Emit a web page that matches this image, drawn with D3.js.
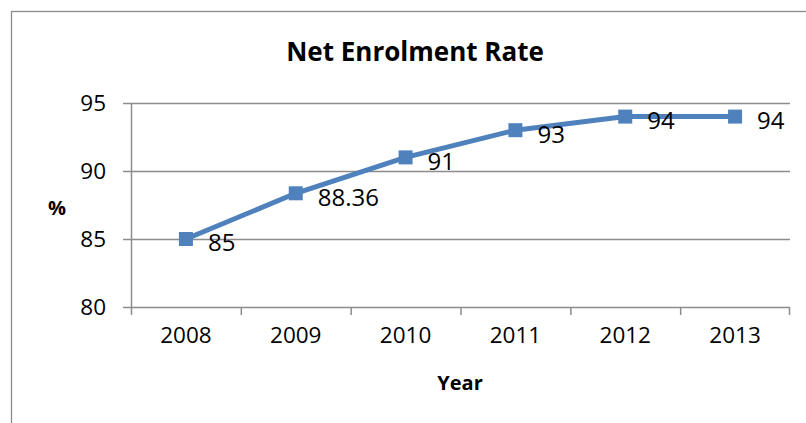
<!DOCTYPE html>
<html>
<head>
<meta charset="utf-8">
<script src="https://cdn.jsdelivr.net/npm/d3@7"></script>
<style>
  body { margin: 0; background: #fff; }
  svg { display: block; font-family: "Open Sans", sans-serif; }
</style>
</head>
<body>
<svg id="chart" width="806" height="423"></svg>
<script>
var years = ["2008", "2009", "2010", "2011", "2012", "2013"];
var rates = [85, 88.36, 91, 93, 94, 94];
var rateLabels = ["85", "88.36", "91", "93", "94", "94"];
var yTicks = [80, 85, 90, 95];

var svg = d3.select("#chart"),
    margin = {top: 103, right: 16, bottom: 116, left: 131},
    width = +svg.attr("width") - margin.left - margin.right,
    height = +svg.attr("height") - margin.top - margin.bottom;

// chart frame, runs off the right and bottom edge like the original
svg.append("rect")
    .attr("x", 11.5)
    .attr("y", 11.5)
    .attr("width", 830)
    .attr("height", 440)
    .attr("fill", "none")
    .attr("stroke", "#8c8c8c")
    .attr("stroke-width", 1.3);

var g = svg.append("g").attr("transform", "translate(" + margin.left + "," + margin.top + ")");

var x = d3.scaleBand()
    .domain(years)
    .range([0, width]);

var y = d3.scaleLinear()
    .domain([80, 95])
    .range([height, 0]);

// gridlines
g.append("g")
    .selectAll("line")
    .data(yTicks.slice(1))
    .enter().append("line")
      .attr("x1", 0)
      .attr("x2", width)
      .attr("y1", function(d) { return Math.round(y(d)) + 0.5; })
      .attr("y2", function(d) { return Math.round(y(d)) + 0.5; })
      .attr("stroke", "#8c8c8c")
      .attr("stroke-width", 1.5);

var yAxis = g.append("g")
    .call(d3.axisLeft(y).tickValues(yTicks).tickSize(8).tickPadding(17));
yAxis.select(".domain").attr("stroke", "#8c8c8c").attr("stroke-width", 1.5).attr("d", "M0.5," + height + "V0");
yAxis.selectAll(".tick line").attr("stroke", "#8c8c8c").attr("stroke-width", 1.5);
yAxis.selectAll(".tick text")
    .attr("font-size", "22.5px")
    .attr("font-family", "Open Sans")
    .attr("fill", "#000")
    .attr("dy", "0.35em");

var xAxis = g.append("g")
    .attr("transform", "translate(0," + height + ")")
    .call(d3.axisBottom(x).tickSize(0).tickPadding(20));
xAxis.select(".domain").attr("stroke", "#8c8c8c").attr("stroke-width", 1.5)
    .attr("d", "M0,0.5H" + width);
xAxis.selectAll(".tick text")
    .attr("font-size", "22.5px")
    .attr("font-family", "Open Sans")
    .attr("fill", "#000");

// category boundary ticks
g.append("g")
    .selectAll("line")
    .data(years.concat(["end"]))
    .enter().append("line")
      .attr("x1", function(d, i) { return i < years.length ? x(d) + 0.5 : width - 0.5; })
      .attr("x2", function(d, i) { return i < years.length ? x(d) + 0.5 : width - 0.5; })
      .attr("y1", height)
      .attr("y2", height + 8)
      .attr("stroke", "#8c8c8c")
      .attr("stroke-width", 1.5);

// line
var line = d3.line()
    .x(function(d, i) { return x(years[i]) + x.bandwidth() / 2; })
    .y(function(d) { return y(d); });

g.append("path")
    .datum(rates)
    .attr("fill", "none")
    .attr("stroke", "#4f81bd")
    .attr("stroke-width", 5)
    .attr("stroke-linejoin", "round")
    .attr("d", line);

g.append("g")
    .selectAll("rect")
    .data(rates)
    .enter().append("rect")
      .attr("x", function(d, i) { return x(years[i]) + x.bandwidth() / 2 - 7; })
      .attr("y", function(d) { return y(d) - 7; })
      .attr("width", 14)
      .attr("height", 14)
      .attr("fill", "#4f81bd");

g.append("g")
    .selectAll("text")
    .data(rates)
    .enter().append("text")
      .attr("x", function(d, i) { return x(years[i]) + x.bandwidth() / 2 + 22; })
      .attr("y", function(d) { return y(d) + 4; })
      .attr("dy", "0.35em")
      .attr("font-size", "24px")
      .attr("fill", "#000")
      .text(function(d, i) { return rateLabels[i]; });

// titles
svg.append("text")
    .attr("x", 415)
    .attr("y", 52)
    .attr("dy", "0.35em")
    .attr("text-anchor", "middle")
    .attr("font-size", "26px")
    .attr("font-weight", "bold")
    .text("Net Enrolment Rate");

svg.append("text")
    .attr("x", 57)
    .attr("y", 208)
    .attr("dy", "0.35em")
    .attr("text-anchor", "middle")
    .attr("font-size", "20px")
    .attr("font-weight", "bold")
    .text("%");

svg.append("text")
    .attr("x", 460)
    .attr("y", 383)
    .attr("dy", "0.35em")
    .attr("text-anchor", "middle")
    .attr("font-size", "20px")
    .attr("font-weight", "bold")
    .text("Year");
</script>
</body>
</html>
